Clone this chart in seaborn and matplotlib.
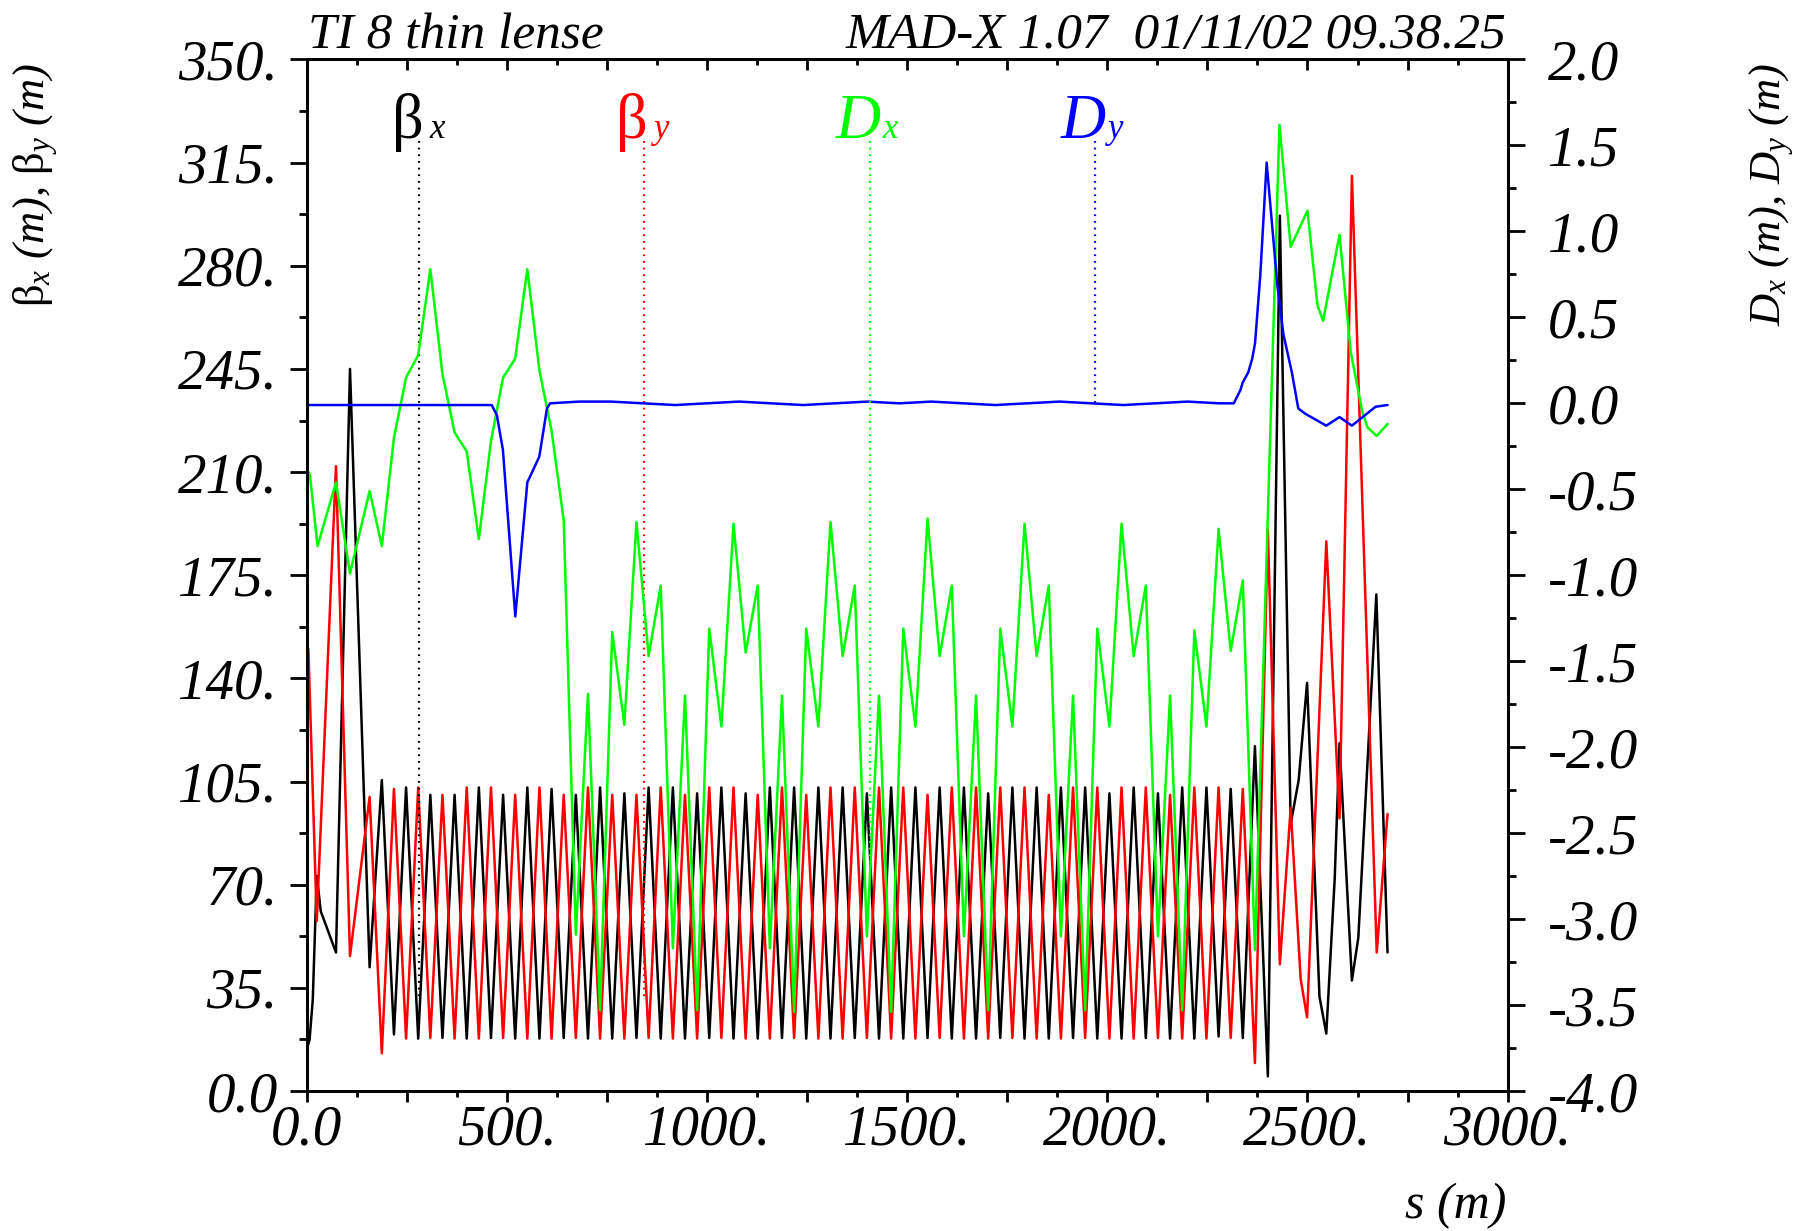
import matplotlib
matplotlib.use("Agg")
import matplotlib.pyplot as plt
import seaborn as sns

# quadrupole positions along the regular FODO part (m)
s_quads = [187.5, 217.8, 248.1, 278.4, 308.7, 339.0, 369.3, 399.6,
           429.9, 460.2, 490.5, 520.7, 551.0, 581.3, 611.6, 641.9,
           672.2, 702.5, 732.8, 763.1, 793.4, 823.7, 854.0, 884.3,
           914.6, 944.9, 975.2, 1005.5, 1035.8, 1066.1, 1096.4, 1126.6,
           1156.9, 1187.2, 1217.5, 1247.8, 1278.1, 1308.4, 1338.7, 1369.0,
           1399.3, 1429.6, 1459.9, 1490.2, 1520.5, 1550.8, 1581.1, 1611.4,
           1641.7, 1672.0, 1702.3, 1732.5, 1762.8, 1793.1, 1823.4, 1853.7,
           1884.0, 1914.3, 1944.6, 1974.9, 2005.2, 2035.5, 2065.8, 2096.1,
           2126.4, 2156.7, 2187.0, 2217.3, 2247.6, 2277.9, 2308.2, 2338.4,
           2368.7]

# beta x
s_bx_in = [0, 3, 7, 15, 25, 35, 73, 108, 157]
bx_in = [14.6, 15.5, 17.4, 31, 73, 61, 47, 245, 42]
bx_quads = [105.5, 19.2, 103, 17.8, 100.5, 18.0, 100.5, 17.8,
            103, 18.0, 100.5, 17.8, 103, 17.8, 102.5, 18.0,
            100.5, 17.8, 103, 17.8, 101, 18.0, 103, 17.8,
            103, 17.8, 101, 18.0, 103, 17.8, 101, 17.8,
            103, 18.0, 103, 17.8, 103, 17.8, 103, 18.0,
            101, 17.8, 103, 17.8, 103, 18.0, 103, 17.8,
            103, 17.8, 101, 18.0, 103, 17.8, 103, 17.8,
            103, 18.0, 103, 17.8, 101, 17.8, 103, 18.0,
            101, 17.8, 103, 17.8, 103, 18.5, 102.5, 18.0,
            117]
s_bx_out = [2401, 2431, 2458, 2478, 2499, 2530, 2547, 2568, 2580, 2611, 2627, 2672, 2700]
bx_out = [5, 297, 90.5, 105.5, 138.5, 32, 19.5, 72, 118, 37.5, 52, 168.5, 47]

# beta y
s_by_in = [0, 4, 25, 73, 108, 157]
by_in = [113.5, 150, 57.7, 212, 45.8, 99.8]
by_quads = [12.8, 102.5, 17.8, 103, 18.0, 100.5, 17.8, 103,
            17.8, 103, 18.0, 100.5, 17.8, 103, 17.8, 100.5,
            18.0, 103, 17.8, 100.5, 17.8, 100.5, 18.0, 103,
            17.8, 100.5, 17.8, 103, 18.0, 103, 17.8, 100.5,
            17.8, 103, 18.0, 100.5, 17.8, 103, 17.8, 103,
            18.0, 103, 17.8, 103, 17.8, 100.5, 18.0, 103,
            17.8, 103, 17.8, 103, 18.0, 103, 17.8, 100.5,
            17.8, 103, 18.0, 103, 17.8, 103, 17.8, 103,
            18.0, 100.5, 17.8, 103, 17.8, 103, 18.0, 102.5,
            9.5]
s_by_out = [2401, 2431, 2458, 2483, 2499, 2547, 2580, 2611, 2673, 2700]
by_out = [190.5, 43, 96, 38, 25, 186.5, 92.5, 310.5, 47, 94]

# D x
s_dx_in = [0, 8, 27, 73, 108, 157]
dx_in = [-0.38, -0.42, -0.83, -0.46, -0.99, -0.51]
dx_quads = [-0.83, -0.20, 0.15, 0.28, 0.78, 0.17, -0.17, -0.28,
            -0.79, -0.22, 0.15, 0.26, 0.78, 0.19, -0.16, -0.68,
            -3.09, -1.69, -3.53, -1.33, -1.87, -0.69, -1.47, -1.06,
            -3.17, -1.70, -3.53, -1.31, -1.88, -0.70, -1.45, -1.06,
            -3.17, -1.70, -3.54, -1.31, -1.88, -0.69, -1.47, -1.06,
            -3.10, -1.70, -3.54, -1.31, -1.88, -0.67, -1.47, -1.06,
            -3.10, -1.70, -3.53, -1.31, -1.88, -0.70, -1.47, -1.06,
            -3.10, -1.70, -3.53, -1.31, -1.88, -0.70, -1.47, -1.06,
            -3.10, -1.70, -3.53, -1.32, -1.88, -0.73, -1.44, -1.03,
            -3.18]
s_dx_out = [2430, 2458, 2500, 2525, 2539, 2580, 2608, 2637, 2650, 2673, 2700]
dx_out = [1.62, 0.91, 1.12, 0.57, 0.48, 0.98, 0.30, -0.05, -0.14, -0.19, -0.12]

# D y
s_dy = [0, 462, 475, 490, 521, 551, 581, 600, 608,
        680, 760, 840, 920, 1000, 1080, 1160, 1240, 1320, 1400, 1480,
        1560, 1640, 1720, 1800, 1880, 1960, 2040, 2120, 2200, 2280,
        2316, 2333, 2338, 2352, 2362, 2369, 2382, 2398,
        2425, 2440, 2461, 2477, 2494, 2547, 2580, 2611, 2670, 2700]
dy = [-0.01, -0.01, -0.07, -0.27, -1.24, -0.46, -0.31, -0.03, 0.0,
      0.01, 0.01, 0.0, -0.01, 0.0, 0.01, 0.0, -0.01, 0.0, 0.01, 0.0,
      0.01, 0.0, -0.01, 0.0, 0.01, 0.0, -0.01, 0.0, 0.01, 0.0,
      0.0, 0.08, 0.12, 0.18, 0.26, 0.35, 0.74, 1.40,
      0.68, 0.40, 0.18, -0.03, -0.06, -0.13, -0.08, -0.13, -0.02, -0.01]

# curve labels at the top
label_s = [281, 842, 1406, 1969]
label_main = ["\u03b2", "\u03b2", "D", "D"]
label_sub = ["x", "y", "x", "y"]
label_colors = ["black", "red", "#00ff00", "blue"]
label_end = [31, 32, -2.78, 0.0]

# axis ticks
x_major = [0, 250, 500, 750, 1000, 1250, 1500, 1750, 2000, 2250, 2500, 2750, 3000]
x_labels = ["0.0", "", "500.", "", "1000.", "", "1500.", "", "2000.", "", "2500.", "", "3000."]
x_minor = [125, 375, 625, 875, 1125, 1375, 1625, 1875, 2125, 2375, 2625, 2875]
b_major = [0, 35, 70, 105, 140, 175, 210, 245, 280, 315, 350]
b_labels = ["0.0", "35.", "70.", "105.", "140.", "175.", "210.", "245.", "280.", "315.", "350."]
b_minor = [17.5, 52.5, 87.5, 122.5, 157.5, 192.5, 227.5, 262.5, 297.5, 332.5]
d_major = [-4.0, -3.5, -3.0, -2.5, -2.0, -1.5, -1.0, -0.5, 0.0, 0.5, 1.0, 1.5, 2.0]
d_labels = ["-4.0", "-3.5", "-3.0", "-2.5", "-2.0", "-1.5", "-1.0", "-0.5",
            "0.0", "0.5", "1.0", "1.5", "2.0"]
d_minor = [-3.75, -3.25, -2.75, -2.25, -1.75, -1.25, -0.75, -0.25, 0.25, 0.75, 1.25, 1.75]

sns.set_style("ticks", {"axes.edgecolor": "black", "xtick.color": "black",
                        "ytick.color": "black", "text.color": "black"})
plt.rcParams["font.family"] = ["Liberation Serif", "DejaVu Serif"]
plt.rcParams["mathtext.fontset"] = "custom"
plt.rcParams["mathtext.rm"] = "Liberation Serif"
plt.rcParams["mathtext.it"] = "Liberation Serif:italic"

fig = plt.figure(figsize=(17.95, 12.31), dpi=100)
ax = fig.add_axes([0.1709, 0.1137, 0.669, 0.838])
ax2 = ax.twinx()

lw = 1.8
sns.lineplot(x=s_bx_in + s_quads + s_bx_out, y=bx_in + bx_quads + bx_out, ax=ax,
             color="black", lw=lw, sort=False, estimator=None)
sns.lineplot(x=s_by_in + s_quads + s_by_out, y=by_in + by_quads + by_out, ax=ax,
             color="red", lw=lw, sort=False, estimator=None)
sns.lineplot(x=s_dx_in + s_quads + s_dx_out, y=dx_in + dx_quads + dx_out, ax=ax2,
             color="#00ff00", lw=lw, sort=False, estimator=None)
sns.lineplot(x=s_dy, y=dy, ax=ax2, color="blue", lw=lw, sort=False, estimator=None)

ax.set_xlim(0, 3000)
ax.set_ylim(0, 350)
ax2.set_ylim(-4, 2)

# dotted label lines and labels
for i in range(4):
    a = ax if i < 2 else ax2
    lo, hi = a.get_ylim()
    a.plot([label_s[i], label_s[i]], [lo + 0.921 * (hi - lo), label_end[i]],
           color=label_colors[i], lw=1.6, linestyle=(0, (0.8, 2.2)))
    main_style = "normal" if label_main[i] == "\u03b2" else "italic"
    off_main = 3 if label_main[i] == "\u03b2" else 8
    off_sub = 7 if label_main[i] == "\u03b2" else 9
    ax.annotate(label_main[i], xy=(label_s[i], 0.924), xycoords=ax.get_xaxis_transform(),
                xytext=(off_main, 0), textcoords="offset points", ha="right", va="baseline",
                fontsize=45, fontstyle=main_style, color=label_colors[i])
    ax.annotate(label_sub[i], xy=(label_s[i], 0.924), xycoords=ax.get_xaxis_transform(),
                xytext=(off_sub, 0), textcoords="offset points", ha="left", va="baseline",
                fontsize=25, fontstyle="italic", color=label_colors[i])

# ticks
ax.set_xticks(x_major, labels=x_labels, fontsize=41, fontstyle="italic")
ax.set_xticks(x_minor, minor=True)
ax.set_yticks(b_major, labels=b_labels, fontsize=41, fontstyle="italic")
ax.set_yticks(b_minor, minor=True)
ax2.set_yticks(d_major, labels=d_labels, fontsize=41, fontstyle="italic")
ax2.set_yticks(d_minor, minor=True)

ax.tick_params(axis="x", which="major", direction="out", length=8, width=2, pad=2, top=False)
ax.tick_params(axis="x", which="minor", direction="out", length=4.5, width=2, top=False)
ax.tick_params(axis="y", which="major", direction="out", length=12, width=2, pad=9)
ax.tick_params(axis="y", which="minor", direction="out", length=6, width=2)
ax2.tick_params(axis="y", which="major", direction="out", length=12, width=2, pad=17)
ax2.tick_params(axis="y", which="minor", direction="out", length=6, width=2)

top = ax.secondary_xaxis("top")
top.set_xticks(x_major)
top.set_xticks(x_minor, minor=True)
top.tick_params(axis="x", which="major", direction="in", length=8, width=2, labeltop=False)
top.tick_params(axis="x", which="minor", direction="in", length=4.5, width=2)

for a in (ax, ax2, top):
    for sp in a.spines.values():
        sp.set_linewidth(2)
        sp.set_color("black")

ax.set_xlabel("")
ax.set_ylabel("")
ax2.set_ylabel("")

fig.text(0.0198, 0.949, r"$\mathrm{\beta}_{x}$ (m), $\mathrm{\beta}_{y}$ (m)", rotation=90,
         ha="center", va="top", fontsize=32, fontstyle="italic")
fig.text(0.987, 0.949, r"$D_{x}$ (m), $D_{y}$ (m)", rotation=90,
         ha="center", va="top", fontsize=32, fontstyle="italic")
fig.text(0.839, 0.0106, "s (m)", ha="right", va="baseline", fontsize=36, fontstyle="italic")
fig.text(0.1715, 0.961, "TI 8 thin lense", ha="left", va="baseline", fontsize=37, fontstyle="italic")
fig.text(0.839, 0.961, "MAD-X 1.07  01/11/02 09.38.25", ha="right", va="baseline",
         fontsize=37, fontstyle="italic")

fig.savefig("out.png", dpi=100)
